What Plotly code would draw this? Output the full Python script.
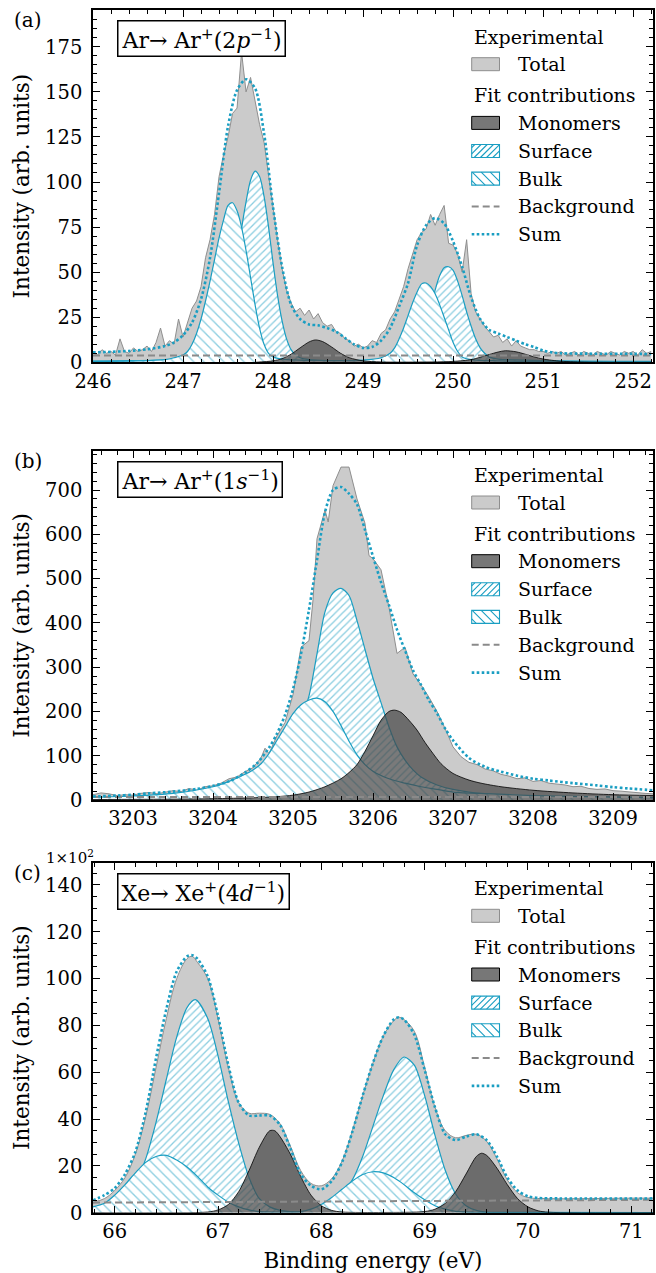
import plotly.graph_objects as go

# ---------------------------------------------------------------------------
# (a) Ar -> Ar+(2p^-1)
# ---------------------------------------------------------------------------
a_exp_x = [246.00, 246.05, 246.10, 246.15, 246.20, 246.25, 246.30, 246.35, 246.40, 246.45,
           246.50, 246.55, 246.60, 246.65, 246.70, 246.75, 246.80, 246.85, 246.90, 246.95,
           247.00, 247.05, 247.10, 247.15, 247.20, 247.25, 247.30, 247.35, 247.40, 247.45,
           247.50, 247.55, 247.60, 247.65, 247.70, 247.75, 247.80, 247.85, 247.90, 247.95,
           248.00, 248.05, 248.10, 248.15, 248.20, 248.25, 248.30, 248.35, 248.40, 248.45,
           248.50, 248.55, 248.60, 248.65, 248.70, 248.75, 248.80, 248.85, 248.90, 248.95,
           249.00, 249.05, 249.10, 249.15, 249.20, 249.25, 249.30, 249.35, 249.40, 249.45,
           249.50, 249.55, 249.60, 249.65, 249.70, 249.75, 249.80, 249.85, 249.90, 249.95,
           250.00, 250.05, 250.10, 250.15, 250.20, 250.25, 250.30, 250.35, 250.40, 250.45,
           250.50, 250.55, 250.60, 250.65, 250.70, 250.75, 250.80, 250.85, 250.90, 250.95,
           251.00, 251.05, 251.10, 251.15, 251.20, 251.25, 251.30, 251.35, 251.40, 251.45,
           251.50, 251.55, 251.60, 251.65, 251.70, 251.75, 251.80, 251.85, 251.90, 251.95,
           252.00, 252.05, 252.10, 252.15, 252.20]
a_exp_y = [5, 4, 7, 5, 6, 4, 13, 6, 5, 8,
           6, 7, 9, 6, 11, 19, 9, 12, 10, 24,
           14, 22, 30, 34, 42, 58, 68, 82, 103, 115,
           125, 138, 141, 172, 150, 158, 144, 132, 122, 104,
           84, 68, 52, 40, 33, 28, 30, 26, 29, 24,
           27, 22, 20, 21, 17, 16, 13, 12, 9, 10,
           8, 9, 12, 11, 16, 18, 24, 28, 35, 42,
           52, 60, 68, 72, 74, 82, 76, 82, 87, 66,
           65, 60, 50, 68, 38, 28, 24, 20, 17, 14,
           15, 11, 13, 9, 12, 9, 8, 7, 7, 6,
           6, 5, 6, 5, 6, 4, 5, 6, 4, 6,
           5, 4, 6, 5, 4, 6, 5, 4, 6, 5,
           6, 4, 7, 5, 6]

a_sum_x = [246.0, 246.2, 246.4, 246.6, 246.8, 246.9, 247.0, 247.1, 247.2, 247.3, 247.4,
           247.5, 247.6, 247.7, 247.8, 247.9, 248.0, 248.1, 248.2, 248.3, 248.4, 248.5,
           248.6, 248.7, 248.8, 248.9, 249.0, 249.1, 249.2, 249.3, 249.4, 249.5, 249.6,
           249.7, 249.8, 249.9, 250.0, 250.1, 250.2, 250.3, 250.4, 250.5, 250.6, 250.7,
           250.8, 250.9, 251.0, 251.1, 251.2, 251.5, 252.0, 252.2]
a_sum_y = [5.5, 5.8, 6.3, 7.2, 9.0, 11, 15, 22, 35, 58, 94,
           131, 151, 157, 152, 127, 86, 53, 32, 24, 21, 20.5,
           19, 17, 13.5, 10, 8, 8.5, 12, 19, 31, 44, 65,
           76, 80, 77, 67, 53, 36, 24, 18, 16, 14, 12,
           10, 8.5, 6.5, 5.5, 5, 4.8, 4.7, 4.6]

a_surf_x = [246.0, 246.5, 247.0, 247.2, 247.3, 247.4, 247.45, 247.5, 247.55, 247.6, 247.65,
            247.7, 247.75, 247.8, 247.85, 247.9, 247.95, 248.0, 248.05, 248.1, 248.15,
            248.2, 248.25, 248.3, 248.4, 248.6, 249.0, 249.3, 249.5, 249.6, 249.65, 249.7,
            249.75, 249.8, 249.85, 249.9, 249.95, 250.0, 250.05, 250.1, 250.15, 250.2,
            250.25, 250.3, 250.35, 250.4, 250.5, 251.0, 252.2]
a_surf_y = [0.6, 0.9, 1.5, 2, 3.5, 10, 17, 27, 40, 56, 74,
            89, 101, 106, 103, 92, 75, 55, 37, 23, 13,
            7, 4, 2.5, 1.5, 1, 1, 1.5, 3, 8, 14, 21,
            30, 40, 48, 52.5, 53, 51, 45, 37, 28, 20,
            13, 8, 5, 3, 1.8, 1, 0.5]

a_bulk_x = [246.0, 246.5, 246.8, 246.9, 247.0, 247.05, 247.1, 247.15, 247.2, 247.25, 247.3,
            247.35, 247.4, 247.45, 247.5, 247.55, 247.6, 247.65, 247.7, 247.75, 247.8,
            247.85, 247.9, 247.95, 248.0, 248.1, 248.5, 249.0, 249.2, 249.3, 249.35, 249.4,
            249.45, 249.5, 249.55, 249.6, 249.65, 249.7, 249.75, 249.8, 249.85, 249.9,
            249.95, 250.0, 250.05, 250.1, 250.2, 250.5, 252.2]
a_bulk_y = [0.5, 0.8, 1.5, 2.5, 4, 6, 10, 16, 24, 34, 45,
            57, 69, 79, 87, 88.5, 84, 75, 62, 47, 32,
            19, 10, 5, 3, 1.8, 1, 1.2, 2.5, 5, 8, 13,
            19, 26, 33, 39, 43.5, 44, 42, 38, 32, 25,
            18, 11, 6, 3, 1.5, 0.8, 0.3]

a_mono_x = [247.8, 248.0, 248.1, 248.2, 248.3, 248.4, 248.47, 248.55, 248.65, 248.75, 248.85,
            249.0, 249.2, 249.5, 250.0, 250.2, 250.3, 250.4, 250.5, 250.58, 250.7, 250.8,
            250.9, 251.0, 251.2, 251.5, 252.2]
a_mono_y = [0, 0.8, 2, 4.5, 8, 11.3, 12.4, 11.5, 8.5, 5, 2.5,
            0.8, 0.2, 0.1, 0.5, 1.5, 2.8, 4.3, 5.7, 6.4, 5.8, 4.5,
            3, 1.8, 0.6, 0.1, 0]

a_bg_x = [246.0, 252.2]
a_bg_y = [3.8, 3.8]

# ---------------------------------------------------------------------------
# (b) Ar -> Ar+(1s^-1)
# ---------------------------------------------------------------------------
b_exp_x = [3202.5, 3202.6, 3202.7, 3202.8, 3202.9, 3203.0, 3203.1, 3203.2, 3203.3, 3203.4,
           3203.5, 3203.6, 3203.7, 3203.8, 3203.9, 3204.0, 3204.1, 3204.2, 3204.3, 3204.4,
           3204.5, 3204.6, 3204.65, 3204.7, 3204.8, 3204.9, 3205.0, 3205.1, 3205.2, 3205.25,
           3205.3, 3205.4, 3205.44, 3205.5, 3205.6, 3205.7, 3205.75, 3205.8, 3205.9, 3205.95,
           3206.0, 3206.1, 3206.2, 3206.3, 3206.4, 3206.5, 3206.6, 3206.7, 3206.8, 3206.9,
           3207.0, 3207.1, 3207.2, 3207.3, 3207.4, 3207.5, 3207.6, 3207.7, 3207.8, 3207.9,
           3208.0, 3208.1, 3208.2, 3208.3, 3208.4, 3208.5, 3208.6, 3208.7, 3208.8, 3208.9,
           3209.0, 3209.1, 3209.2, 3209.3, 3209.4, 3209.5]
b_exp_y = [12, 16, 14, 10, 12, 11, 15, 17, 14, 18,
           21, 19, 26, 22, 30, 32, 38, 48, 52, 64,
           73, 95, 117, 105, 145, 175, 238, 345, 360, 452,
           590, 655, 628, 710, 752, 752, 715, 680, 625, 552,
           545, 520, 435, 331, 345, 285, 260, 232, 200, 162,
           120, 98, 85, 80, 70, 66, 58, 54, 48, 50,
           42, 44, 38, 36, 34, 30, 31, 26, 24, 25,
           21, 20, 18, 17, 15, 14]

b_sum_x = [3202.5, 3202.8, 3203.0, 3203.2, 3203.5, 3203.8, 3204.0, 3204.2, 3204.4, 3204.55,
           3204.7, 3204.8, 3204.9, 3205.0, 3205.1, 3205.2, 3205.3, 3205.4, 3205.5, 3205.6,
           3205.7, 3205.8, 3205.9, 3206.0, 3206.1, 3206.2, 3206.3, 3206.4, 3206.5, 3206.6,
           3206.7, 3206.8, 3206.9, 3207.0, 3207.2, 3207.4, 3207.6, 3207.8, 3208.0, 3208.2,
           3208.5, 3208.8, 3209.0, 3209.2, 3209.5]
b_sum_y = [8, 10, 12, 15, 19, 25, 32, 42, 62, 83,
           118, 150, 192, 250, 330, 430, 542, 650, 700, 707,
           692, 668, 610, 550, 492, 440, 385, 338, 293, 260,
           225, 196, 162, 135, 95, 75, 64, 55, 48, 44,
           38, 33, 29, 26, 22]

b_surf_x = [3202.5, 3203.0, 3203.5, 3204.0, 3204.3, 3204.5, 3204.7, 3204.8, 3204.9, 3205.0,
            3205.1, 3205.2, 3205.3, 3205.4, 3205.5, 3205.6, 3205.7, 3205.8, 3205.9, 3206.0,
            3206.1, 3206.2, 3206.3, 3206.4, 3206.5, 3206.6, 3206.8, 3207.0, 3207.5, 3208.0,
            3208.5, 3209.5]
b_surf_y = [3, 5, 8, 14, 22, 33, 46, 62, 88, 125,
            180, 235, 330, 425, 468, 478, 462, 405, 340, 275,
            220, 165, 120, 90, 68, 52, 34, 24, 12, 8,
            6, 4]

b_bulk_x = [3202.5, 3203.0, 3203.5, 3204.0, 3204.2, 3204.4, 3204.5, 3204.6, 3204.7, 3204.8,
            3204.9, 3205.0, 3205.1, 3205.2, 3205.3, 3205.4, 3205.5, 3205.6, 3205.7, 3205.8,
            3205.9, 3206.0, 3206.2, 3206.4, 3206.6, 3206.8, 3207.0, 3207.5, 3208.0, 3208.5,
            3209.5]
b_bulk_y = [6, 9, 15, 30, 42, 58, 68, 82, 105, 135,
            165, 195, 215, 226, 230, 222, 200, 168, 133, 102,
            80, 65, 48, 38, 30, 24, 18, 14, 10, 8,
            5.5]

b_mono_x = [3202.5, 3203.5, 3204.0, 3204.5, 3204.8, 3205.0, 3205.2, 3205.4, 3205.6, 3205.7,
            3205.8, 3205.9, 3206.0, 3206.1, 3206.2, 3206.27, 3206.35, 3206.45, 3206.55, 3206.65,
            3206.75, 3206.85, 3207.0, 3207.2, 3207.35, 3207.6, 3208.0, 3208.5, 3209.0, 3209.5]
b_mono_y = [1, 2, 3, 5, 7.5, 11, 18, 30, 48, 62,
            80, 110, 145, 180, 200, 203, 198, 180, 158, 130,
            105, 82, 60, 45, 38, 30, 22, 16, 12, 10]

b_bg_x = [3202.5, 3209.5]
b_bg_y = [7, 7]

# ---------------------------------------------------------------------------
# (c) Xe -> Xe+(4d^-1), intensities in units of 10^2
# ---------------------------------------------------------------------------
c_exp_x = [65.79, 65.9, 66.0, 66.1, 66.2, 66.3, 66.4, 66.5, 66.6, 66.7, 66.75, 66.8, 66.9,
           67.0, 67.1, 67.2, 67.3, 67.4, 67.5, 67.6, 67.7, 67.8, 67.9, 68.0, 68.1, 68.2,
           68.3, 68.4, 68.5, 68.6, 68.7, 68.75, 68.8, 68.9, 69.0, 69.1, 69.2, 69.3, 69.4,
           69.5, 69.6, 69.7, 69.8, 69.9, 70.0, 70.2, 70.5, 71.0, 71.21]
c_exp_y = [4.5, 6, 9.5, 15, 25, 41, 62, 83, 100, 108.5, 109.5, 107, 100,
           83, 62, 47, 42.5, 42.5, 42, 38, 28.5, 18, 12.5, 11.5, 14.5, 22,
           35, 50, 64, 75.5, 82, 83.5, 82.5, 77.5, 62, 45, 35, 32, 33,
           33.5, 30.5, 23, 14, 8.5, 6.5, 6, 6, 6.2, 6.2]

c_sum_x = [65.79, 65.9, 66.0, 66.1, 66.2, 66.3, 66.4, 66.5, 66.6, 66.7, 66.75, 66.8, 66.9,
           67.0, 67.1, 67.2, 67.3, 67.4, 67.5, 67.6, 67.7, 67.8, 67.9, 68.0, 68.1, 68.2,
           68.3, 68.4, 68.5, 68.6, 68.7, 68.75, 68.8, 68.9, 69.0, 69.1, 69.2, 69.3, 69.4,
           69.5, 69.6, 69.7, 69.8, 69.9, 70.0, 70.1, 70.3, 71.21]
c_sum_y = [5.3, 7.5, 10.5, 16.5, 26, 43, 66, 87, 103, 109.5, 110, 108.5, 101,
           84, 63, 47, 41.5, 41.5, 41.5, 37.5, 27.5, 16.5, 11.5, 10, 13.5, 21.5,
           34.5, 50, 64, 75.5, 82.5, 83.5, 82.5, 76, 61, 45, 33.5, 31, 32.5,
           33.5, 31, 24, 15, 9.5, 7, 6.3, 6.1, 6.1]

c_surf_x = [65.79, 65.9, 66.0, 66.1, 66.2, 66.3, 66.4, 66.5, 66.6, 66.7, 66.78, 66.9, 67.0,
            67.1, 67.2, 67.3, 67.4, 67.5, 67.6, 67.7, 67.8, 67.9, 68.0, 68.1, 68.2, 68.3,
            68.4, 68.5, 68.6, 68.7, 68.8, 68.9, 69.0, 69.1, 69.2, 69.3, 69.4, 69.5, 69.6,
            69.8, 71.21]
c_surf_y = [0.4, 0.9, 2.4, 5.8, 12.3, 23, 38.6, 57, 75, 87.6, 91, 83, 67,
            47.4, 29.7, 15, 6, 2.5, 1.0, 0.5, 0.4, 0.5, 1.5, 3.5, 8, 14,
            24, 37, 50, 61, 66.5, 63, 50, 33, 18, 8, 3, 1, 0.3,
            0.1, 0.05]

c_bulk_x = [65.79, 65.9, 66.0, 66.1, 66.2, 66.3, 66.4, 66.5, 66.6, 66.7, 66.8, 66.9, 67.0,
            67.1, 67.2, 67.3, 67.4, 67.6, 67.8, 67.9, 68.0, 68.1, 68.2, 68.3, 68.4, 68.5,
            68.6, 68.7, 68.8, 68.9, 69.0, 69.1, 69.2, 69.3, 69.5, 71.21]
c_bulk_y = [2.5, 4, 7.5, 12, 17, 21.5, 24, 24.5, 22.5, 19.5, 15.5, 11, 7.5,
            4.5, 2.5, 1.2, 0.5, 0.3, 0.5, 1.5, 3.5, 6.5, 10, 13.5, 16.3, 17.5,
            17, 15, 12, 8.5, 5.5, 3, 1.5, 0.6, 0.2, 0.05]

c_mono_x = [65.79, 66.9, 67.0, 67.1, 67.2, 67.3, 67.4, 67.5, 67.55, 67.6, 67.7, 67.8, 67.9,
            68.0, 68.1, 68.2, 68.6, 69.0, 69.1, 69.2, 69.3, 69.4, 69.5, 69.55, 69.6, 69.7,
            69.8, 69.9, 70.0, 70.1, 70.2, 71.21]
c_mono_y = [0, 0.3, 1.2, 3.5, 9, 18, 28, 35, 35, 32.5, 25, 15.5, 7.5,
            3, 1, 0.3, 0.1, 0.5, 1.5, 4, 9, 16.5, 24, 25.4, 24.5, 19,
            12, 6, 2.5, 0.8, 0.2, 0]

c_bg_x = [65.79, 71.21]
c_bg_y = [4.3, 5.5]

# Legend entries: (kind, text)
legend_rows = [("title", "Experimental"), ("total", "Total"),
               ("title", "Fit contributions"), ("mono", "Monomers"),
               ("surf", "Surface"), ("bulk", "Bulk"),
               ("dash", "Background"), ("dot", "Sum")]

# ---------------------------------------------------------------------------
# Styling
# ---------------------------------------------------------------------------
FONT = "DejaVu Serif"
CYAN = "#1a9ec2"
TOTAL_FILL = "#cbcbcb"
TOTAL_EDGE = "#8e8e8e"
MONO_FILL = "rgba(70,70,70,0.72)"
MONO_PATCH = "#777777"
BG_LINE = "#8a8a8a"
SUM_DASH = "2.6px,2.4px"
BG_DASH = "7px,4px"

W, H = 656, 1273
X_LEFT, X_RIGHT = 93, 653
# (top, bottom) pixel rows of each plotting area
PANEL_ROWS = [(10, 362.3), (450.7, 800.0), (862.7, 1212.7)]
# pixel row of the first legend line in each panel, and offsets of the following lines
LEGEND_TOP = [36.7, 475.0, 888.3]
LEGEND_STEPS = [0, 27.5, 58.6, 86.2, 114.3, 141.9, 169.8, 197.6]
PATCH_X0, PATCH_X1, PATCH_H = 471.7, 499.5, 13
TITLE_X, ITEM_X = 472, 516


def fx(p):
    return p / W


def fy(p):
    return 1 - p / H


def hatch_path(x0, y0, x1, y1, step, kind):
    """Hatch lines clipped to a pixel rectangle, returned as an SVG path in paper units."""
    parts = []
    if kind == "/":
        k = x0 + y0 + step / 2
        while k < x1 + y1:
            xa, xb = max(x0, k - y1), min(x1, k - y0)
            if xb > xa:
                parts.append("M%.5f,%.5f L%.5f,%.5f" % (fx(xa), fy(k - xa), fx(xb), fy(k - xb)))
            k += step
    else:
        k = x0 - y1 + step / 2
        while k < x1 - y0:
            xa, xb = max(x0, k + y0), min(x1, k + y1)
            if xb > xa:
                parts.append("M%.5f,%.5f L%.5f,%.5f" % (fx(xa), fy(xa - k), fx(xb), fy(xb - k)))
            k += step
    return " ".join(parts)


panels = [
    dict(exp=(a_exp_x, a_exp_y), sm=(a_sum_x, a_sum_y), surf=(a_surf_x, a_surf_y),
         bulk=(a_bulk_x, a_bulk_y), mono=(a_mono_x, a_mono_y), bg=(a_bg_x, a_bg_y),
         exp_shape="linear", xr=[246.0, 252.22], yr=[0, 195.4], ydt=25, ymin=5,
         label="(a)", title="Ar\u2192 Ar<sup>+</sup>(2<i>p</i><sup>\u22121</sup>)"),
    dict(exp=(b_exp_x, b_exp_y), sm=(b_sum_x, b_sum_y), surf=(b_surf_x, b_surf_y),
         bulk=(b_bulk_x, b_bulk_y), mono=(b_mono_x, b_mono_y), bg=(b_bg_x, b_bg_y),
         exp_shape="linear", xr=[3202.5, 3209.5], yr=[0, 789], ydt=100, ymin=20,
         label="(b)", title="Ar\u2192 Ar<sup>+</sup>(1<i>s</i><sup>\u22121</sup>)"),
    dict(exp=(c_exp_x, c_exp_y), sm=(c_sum_x, c_sum_y), surf=(c_surf_x, c_surf_y),
         bulk=(c_bulk_x, c_bulk_y), mono=(c_mono_x, c_mono_y), bg=(c_bg_x, c_bg_y),
         exp_shape="spline", xr=[65.79, 71.21], yr=[0, 149.5], ydt=20, ymin=5,
         label="(c)", title="Xe\u2192 Xe<sup>+</sup>(4<i>d</i><sup>\u22121</sup>)"),
]

fig = go.Figure()
layout = dict(
    width=W, height=H, margin=dict(l=0, r=0, t=0, b=0),
    paper_bgcolor="white", plot_bgcolor="white",
    font=dict(family=FONT, size=19, color="black"),
    showlegend=False, annotations=[], shapes=[],
)

for i, p in enumerate(panels):
    n = "" if i == 0 else str(i + 1)
    xa, ya = "x" + n, "y" + n
    top, bottom = PANEL_ROWS[i]
    common = dict(xaxis=xa, yaxis=ya, mode="lines", showlegend=False)

    fig.add_trace(go.Scatter(
        x=p["exp"][0], y=p["exp"][1], name="Total", fill="tozeroy", fillcolor=TOTAL_FILL,
        line=dict(color=TOTAL_EDGE, width=1, shape=p["exp_shape"]), **common))
    fig.add_trace(go.Scatter(
        x=p["surf"][0], y=p["surf"][1], name="Surface", fill="tozeroy", fillcolor="white",
        fillpattern=dict(shape="/", fgcolor=CYAN, bgcolor="white", size=5.2, solidity=0.25),
        line=dict(color=CYAN, width=1.2, shape="spline", smoothing=0.8), **common))
    fig.add_trace(go.Scatter(
        x=p["bulk"][0], y=p["bulk"][1], name="Bulk", fill="tozeroy", fillcolor="white",
        fillpattern=dict(shape="\\", fgcolor=CYAN, bgcolor="white", size=7.1, solidity=0.19),
        line=dict(color=CYAN, width=1.2, shape="spline", smoothing=0.8), **common))
    fig.add_trace(go.Scatter(
        x=p["mono"][0], y=p["mono"][1], name="Monomers", fill="tozeroy", fillcolor=MONO_FILL,
        line=dict(color="black", width=0.8, shape="spline", smoothing=0.8), **common))
    fig.add_trace(go.Scatter(
        x=p["bg"][0], y=p["bg"][1], name="Background",
        line=dict(color=BG_LINE, width=2, dash=BG_DASH), **common))
    fig.add_trace(go.Scatter(
        x=p["sm"][0], y=p["sm"][1], name="Sum",
        line=dict(color=CYAN, width=2.6, dash=SUM_DASH, shape="spline", smoothing=0.8),
        **common))

    axis_common = dict(
        showline=True, linecolor="black", linewidth=1.6, mirror="allticks",
        ticks="inside", ticklen=7, tickwidth=1.4, tickcolor="black",
        showgrid=False, zeroline=False,
        tickfont=dict(family=FONT, size=19.5, color="black"),
    )
    layout["xaxis" + n] = dict(
        axis_common, domain=[fx(X_LEFT), fx(X_RIGHT)], anchor=ya, range=p["xr"],
        dtick=1, tick0=0, automargin=False,
        minor=dict(ticks="inside", ticklen=4, tickwidth=1.1, tickcolor="black", dtick=0.2),
    )
    if i == 2:
        layout["xaxis" + n]["title"] = dict(text="Binding energy (eV)",
                                            font=dict(family=FONT, size=21.5), standoff=20)
    layout["yaxis" + n] = dict(
        axis_common, domain=[fy(bottom), fy(top)], anchor=xa, range=p["yr"],
        dtick=p["ydt"], tick0=0, automargin=False, ticklabelstandoff=5,
        minor=dict(ticks="inside", ticklen=4, tickwidth=1.1, tickcolor="black", dtick=p["ymin"]),
        title=dict(text="Intensity (arb. units)", font=dict(family=FONT, size=21.5), standoff=10),
    )

    # panel letter and process label
    layout["annotations"].append(dict(
        xref="paper", yref="paper", x=fx(12), y=fy(top + 10), xanchor="left", yanchor="middle",
        text=p["label"], showarrow=False, font=dict(family=FONT, size=20, color="black")))
    layout["annotations"].append(dict(
        xref="paper", yref="paper", x=fx(116.5), y=fy(top + 10), xanchor="left", yanchor="top",
        text=p["title"], showarrow=False, font=dict(family=FONT, size=22, color="black"),
        bordercolor="black", borderwidth=1.5, borderpad=3, bgcolor="white"))

    # legend drawn from shapes and text
    for (kind, text), step in zip(legend_rows, LEGEND_STEPS):
        yc = LEGEND_TOP[i] + step
        if kind == "title":
            layout["annotations"].append(dict(
                xref="paper", yref="paper", x=fx(TITLE_X), y=fy(yc), xanchor="left",
                yanchor="middle", text=text, showarrow=False,
                font=dict(family=FONT, size=19, color="black")))
            continue
        layout["annotations"].append(dict(
            xref="paper", yref="paper", x=fx(ITEM_X), y=fy(yc), xanchor="left",
            yanchor="middle", text=text, showarrow=False,
            font=dict(family=FONT, size=19, color="black")))
        y0, y1 = yc - PATCH_H / 2, yc + PATCH_H / 2
        rect = dict(type="rect", xref="paper", yref="paper",
                    x0=fx(PATCH_X0), x1=fx(PATCH_X1), y0=fy(y1), y1=fy(y0))
        if kind == "total":
            layout["shapes"].append(dict(rect, fillcolor=TOTAL_FILL,
                                         line=dict(color=TOTAL_EDGE, width=1)))
        elif kind == "mono":
            layout["shapes"].append(dict(rect, fillcolor=MONO_PATCH,
                                         line=dict(color="black", width=1)))
        elif kind in ("surf", "bulk"):
            layout["shapes"].append(dict(rect, fillcolor="white", line=dict(width=0)))
            layout["shapes"].append(dict(
                type="path", xref="paper", yref="paper",
                path=hatch_path(PATCH_X0, y0, PATCH_X1, y1,
                                6.2 if kind == "surf" else 9.0,
                                "/" if kind == "surf" else "\\"),
                line=dict(color=CYAN, width=1.1)))
            layout["shapes"].append(dict(rect, fillcolor="rgba(0,0,0,0)",
                                         line=dict(color=CYAN, width=1.1)))
        else:
            layout["shapes"].append(dict(
                type="line", xref="paper", yref="paper",
                x0=fx(PATCH_X0), x1=fx(PATCH_X1), y0=fy(yc), y1=fy(yc),
                line=dict(color=BG_LINE if kind == "dash" else CYAN,
                          width=2 if kind == "dash" else 2.6,
                          dash=BG_DASH if kind == "dash" else SUM_DASH)))

layout["annotations"].append(dict(
    xref="paper", yref="paper", x=fx(44), y=fy(857), xanchor="left", yanchor="middle",
    text="1\u00d710<sup>2</sup>", showarrow=False, font=dict(family=FONT, size=15, color="black")))

fig.update_layout(**layout)
fig.write_html("out.html")
